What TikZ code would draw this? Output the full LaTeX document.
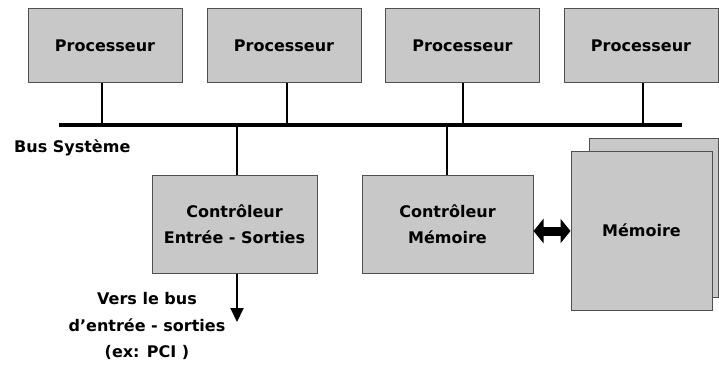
\documentclass[tikz,border=0pt]{standalone}
\usepackage{fontspec}
\setmainfont{DejaVu Sans}
\usetikzlibrary{arrows.meta}
\definecolor{boxfill}{RGB}{200,200,200}
\definecolor{boxline}{RGB}{80,80,80}
\tikzset{
  unitbox/.style={draw=boxline, fill=boxfill, line width=1pt, inner sep=0pt,
    minimum width=154pt, minimum height=73pt, align=center,
    font=\fontsize{16}{26}\selectfont\bfseries},
  wire/.style={line width=2pt, black},
  busline/.style={line width=4pt, black},
  lbl/.style={font=\fontsize{16}{26.5}\selectfont\bfseries, align=center, inner sep=0pt}
}
\begin{document}
\begin{tikzpicture}[x=1pt,y=-1pt]
\useasboundingbox (0,0) rectangle (719,369);
% processors
\node[unitbox] (p1) at (105,45.5) {Processeur};
\node[unitbox] (p2) at (284,45.5) {Processeur};
\node[unitbox] (p3) at (462.5,45.5) {Processeur};
\node[unitbox] (p4) at (641,45.5) {Processeur};
% bus
\coordinate (busL) at (59,125);
\coordinate (busR) at (682,125);
\draw[busline] (busL) -- (busR);
\node[lbl, anchor=west] (bustxt) at (14,148) {Bus Système};
% taps
\coordinate (t1) at (102,125);
\coordinate (t2) at (287,125);
\coordinate (t3) at (463,125);
\coordinate (t4) at (643,125);
\coordinate (t5) at (237,125);
\coordinate (t6) at (447,125);
\draw[wire] (t1 |- p1.south) -- (t1);
\draw[wire] (t2 |- p2.south) -- (t2);
\draw[wire] (t3 |- p3.south) -- (t3);
\draw[wire] (t4 |- p4.south) -- (t4);
% controllers
\node[unitbox, minimum width=165pt, minimum height=98pt] (cio) at (234.5,224) {Contrôleur\\Entrée - Sorties};
\node[unitbox, minimum width=171pt, minimum height=98pt] (cm) at (447.5,224) {Contrôleur\\Mémoire};
\draw[wire] (t5) -- (t5 |- cio.north);
\draw[wire] (t6) -- (t6 |- cm.north);
% memory
\node[unitbox, minimum width=129pt, minimum height=159pt] (memb) at (653.5,217.5) {};
\node[unitbox, minimum width=141pt, minimum height=159pt] (mem) at (641.5,230.5) {Mémoire};
% double arrow
\coordinate (da1) at (cm.east |- 0,231);
\coordinate (da2) at (mem.west |- 0,231);
\draw[line width=9pt, {Triangle[length=10pt,width=24pt]}-{Triangle[length=10pt,width=24pt]}] (da1) -- (da2);
% down arrow
\coordinate (dn) at (237,322);
\draw[wire, -{Triangle[length=14pt,width=13pt]}] (dn |- cio.south) -- (dn);
\node[lbl] (vers) at (147,326) {Vers le bus\\d’entrée - sorties\\(ex: PCI )};
\end{tikzpicture}
\end{document}
